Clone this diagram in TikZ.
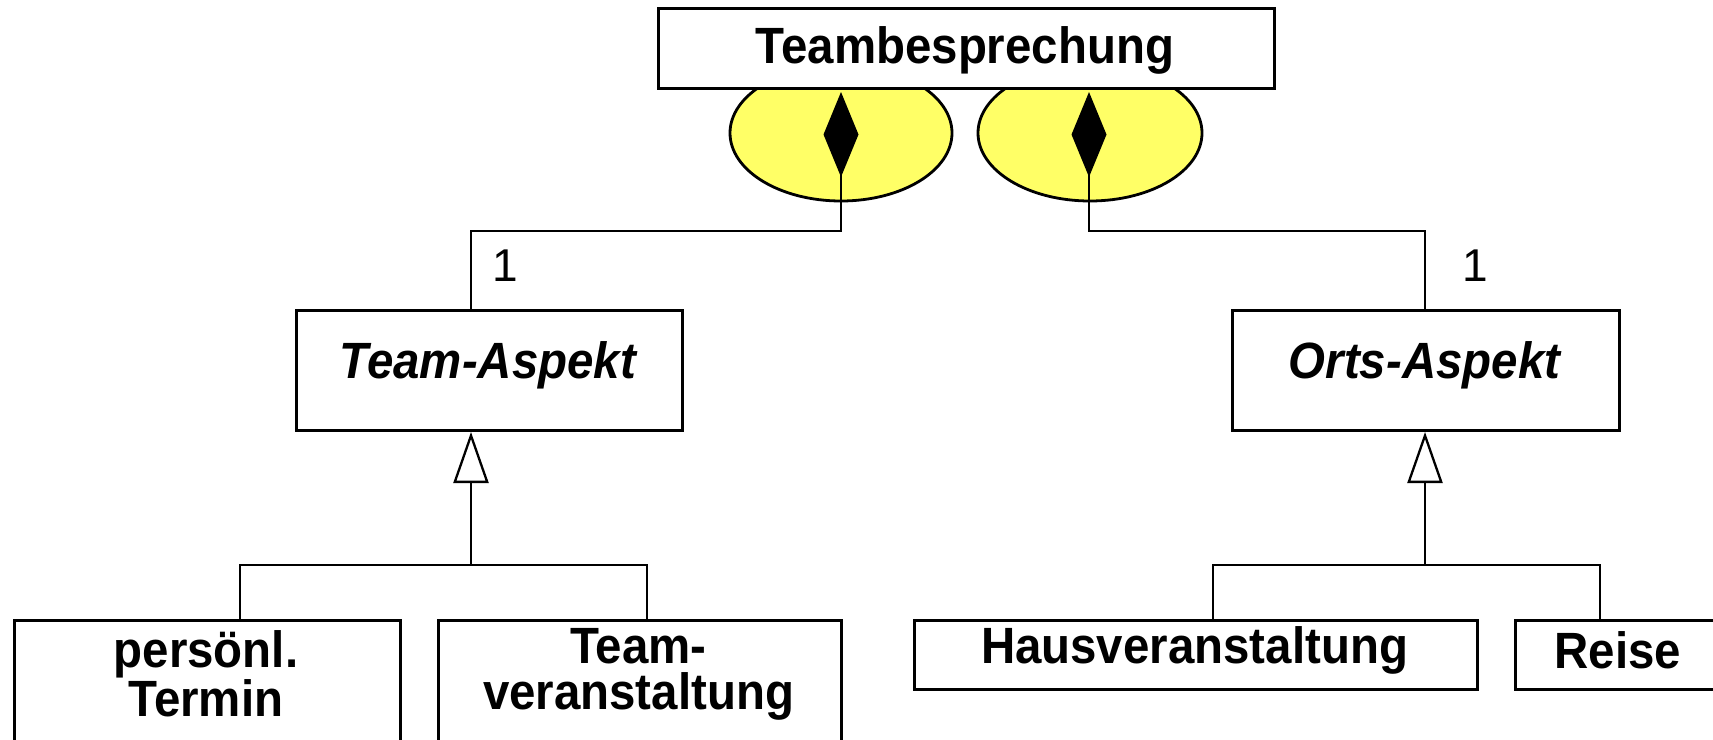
\documentclass[tikz,border=0pt]{standalone}
\usepackage{fontspec}
\setmainfont{Liberation Sans}
\newfontfamily\cnd[FakeStretch=0.93]{Liberation Sans}
\usetikzlibrary{arrows.meta}
\definecolor{ely}{RGB}{255,255,102}
\tikzset{
  x=1pt, y=-1pt,
  box/.style={draw, line width=2.6pt, fill=white, inner sep=0pt, anchor=north west},
  lbl/.style={font=\cnd\fontsize{51}{46}\selectfont\bfseries, align=center, inner sep=0pt},
  ilbl/.style={font=\cnd\fontsize{51}{46}\selectfont\bfseries\itshape, inner sep=0pt},
  num/.style={font=\fontsize{46}{46}\selectfont, inner sep=0pt},
  blob/.style={draw, line width=2.8pt, fill=ely},
  conn/.style={line width=2.3pt},
  agg/.style={conn, {Diamond[length=85pt,width=35pt,fill=black]}-},
  gen/.style={conn, -{Triangle[open,length=51pt,width=35pt,fill=white]}},
}
\begin{document}
\begin{tikzpicture}
\useasboundingbox (0,0) rectangle (1713,739);
\clip (0,0) rectangle (1713,739);
\fill[white] (0,0) rectangle (1713,739);

% yellow ellipses behind the top class
\draw[blob] (841,133) ellipse [x radius=111, y radius=68];
\draw[blob] (1090,133) ellipse [x radius=112, y radius=68];

% classes
\node[box, minimum width=616pt, minimum height=80pt] (tb) at (657,7) {};
\node[lbl] (tbt) at (965,50) {Teambesprechung};

\node[box, minimum width=386pt, minimum height=120pt] (ta) at (295,309) {};
\node[ilbl] (tat) at (488,365) {Team-Aspekt};

\node[box, minimum width=387pt, minimum height=120pt] (oa) at (1231,309) {};
\node[ilbl] (oat) at (1424.5,365) {Orts-Aspekt};

\node[box, minimum width=386pt, minimum height=200pt] (pt) at (13,619) {};
\node[lbl] (ptt) at (206,674) {persönl.\\Termin};

\node[box, minimum width=403pt, minimum height=200pt] (tv) at (437,619) {};
\node[lbl] (tvt) at (638.5,674) {Team-\\veranstaltung};

\node[box, minimum width=563pt, minimum height=69pt] (hv) at (913,619) {};
\node[lbl] (hvt) at (1194.5,650) {Hausveranstaltung};

\node[box, minimum width=300pt, minimum height=69pt] (re) at (1514,619) {};
\node[lbl] (ret) at (1618,650) {Reise};

% connector points
\coordinate (dl) at (841,92);
\coordinate (dr) at (1089,92);
\coordinate (tain) at (471,309);
\coordinate (oain) at (1425,309);
\coordinate (tagen) at (471,432);
\coordinate (oagen) at (1425,432);
\coordinate (barl) at (471,565);
\coordinate (barr) at (1425,565);
\coordinate (ptin) at (240,619);
\coordinate (tvin) at (647,619);
\coordinate (hvin) at (1213,619);
\coordinate (rein) at (1600,619);

% aggregations
\draw[agg] (dl) -- (dl |- 0,231) -| (tain);
\draw[agg] (dr) -- (dr |- 0,231) -| (oain);
\node[num] (n1) at (505,266) {1};
\node[num] (n2) at (1475,266) {1};

% generalizations
\draw[gen] (barl) -- (tagen);
\draw[conn] (ptin) |- (barl) -| (tvin);
\draw[gen] (barr) -- (oagen);
\draw[conn] (hvin) |- (barr) -| (rein);
\end{tikzpicture}
\end{document}
